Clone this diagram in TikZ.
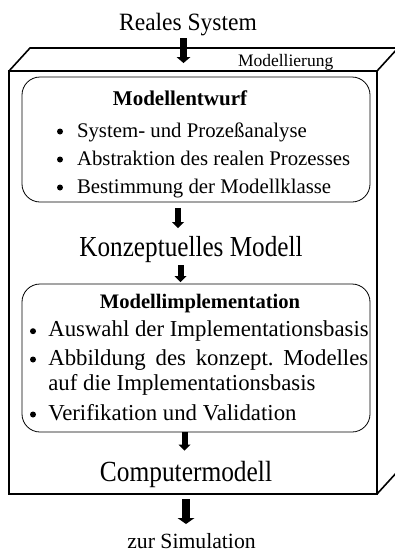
\documentclass[tikz,border=0pt]{standalone}
\usepackage{fontspec}
\setmainfont{Liberation Serif}
\usetikzlibrary{arrows.meta}
\frenchspacing
\begin{document}
\begin{tikzpicture}[x=1pt,y=-1pt,
  txt/.style={inner sep=0pt, outer sep=0pt},
  boxline/.style={line width=1.6pt, line join=miter},
  roundbox/.style={line width=0.8pt, rounded corners=18pt},
  dot/.style={circle, fill, inner sep=0pt, minimum size=6pt},
  barrow/.style={line width=#1, -{Triangle[width=2*#1, length=6pt, line width=0pt]}},
  fs/.style={font=\fontsize{#1}{#1}\selectfont},
  fsb/.style={font=\fontsize{#1}{#1}\selectfont\bfseries}]
\useasboundingbox (0,0) rectangle (395,552);
\clip (0,0) rectangle (395,552);
% 3D box
\coordinate (fA) at (9,71);
\coordinate (fB) at (377,71);
\coordinate (fC) at (377,494);
\coordinate (fD) at (9,494);
\draw[boxline] (fA) rectangle (fC);
\draw[boxline] (fA) -- ++(21,-23) -- ++(368,0) -- (fB);
\draw[boxline] (fB) ++(21,-23) -- ++(0,423) -- (fC);
% rounded boxes
\draw[roundbox] (22,77) rectangle (370,202);
\draw[roundbox] (22,284) rectangle (370,432);
% texts
\node[txt, fs=23.5, anchor=base] (real) at (188,30) {\scalebox{1}[1.06]{Reales System}};
\node[txt, fs=17.5, anchor=base west] (modl) at (238,66) {Modellierung};
\node[txt, fsb=21, anchor=base] (entw) at (180,105) {Modellentwurf};
\node[dot] (b11) at (60,131.5) {};
\node[txt, fs=20.8, anchor=base west] (t11) at (77,137) {System- und Prozeßanalyse};
\node[dot] (b12) at (60,159.5) {};
\node[txt, fs=20.8, anchor=base west] (t12) at (77,165) {Abstraktion des realen Prozesses};
\node[dot] (b13) at (60,187.5) {};
\node[txt, fs=20.8, anchor=base west] (t13) at (77,193) {Bestimmung der Modellklasse};
\node[txt, fs=25.2, anchor=base] (konz) at (191,256.7) {\scalebox{1}[1.15]{Konzeptuelles Modell}};
\node[txt, fsb=20.6, anchor=base] (impl) at (200,308) {Modellimplementation};
\node[dot] (b21) at (33,331.2) {};
\node[txt, fs=22.8, anchor=base west] (t21) at (48.3,336.7) {Auswahl der Implementationsbasis};
\node[dot] (b22) at (33,359.5) {};
\node[txt, fs=22.8, anchor=base west] (t22) at (48.3,365) {\makebox[320pt][s]{Abbildung des konzept. Modelles}};
\node[txt, fs=22.8, anchor=base west] (t22b) at (48.3,390) {auf die Implementationsbasis};
\node[dot] (b23) at (33,414.5) {};
\node[txt, fs=22.8, anchor=base west] (t23) at (48.3,420) {Verifikation und Validation};
\node[txt, fs=25.4, anchor=base] (comp) at (186,481.7) {\scalebox{1}[1.15]{Computermodell}};
\node[txt, fs=21.7, anchor=base] (sim) at (191.5,548) {zur Simulation};
% block arrows
\coordinate (a1s) at (183.5,38);  \coordinate (a1e) at (183.5,63);
\coordinate (a2s) at (178,208);   \coordinate (a2e) at (178,228);
\coordinate (a3s) at (180.5,265); \coordinate (a3e) at (180.5,282);
\coordinate (a4s) at (184.5,432); \coordinate (a4e) at (184.5,450.5);
\coordinate (a5s) at (186,499);   \coordinate (a5e) at (186,524);
\draw[barrow=7pt] (a1s) -- (a1e);
\draw[barrow=6pt] (a2s) -- (a2e);
\draw[barrow=6pt] (a3s) -- (a3e);
\draw[barrow=6pt] (a4s) -- (a4e);
\draw[barrow=8.5pt] (a5s) -- (a5e);
\end{tikzpicture}
\end{document}
